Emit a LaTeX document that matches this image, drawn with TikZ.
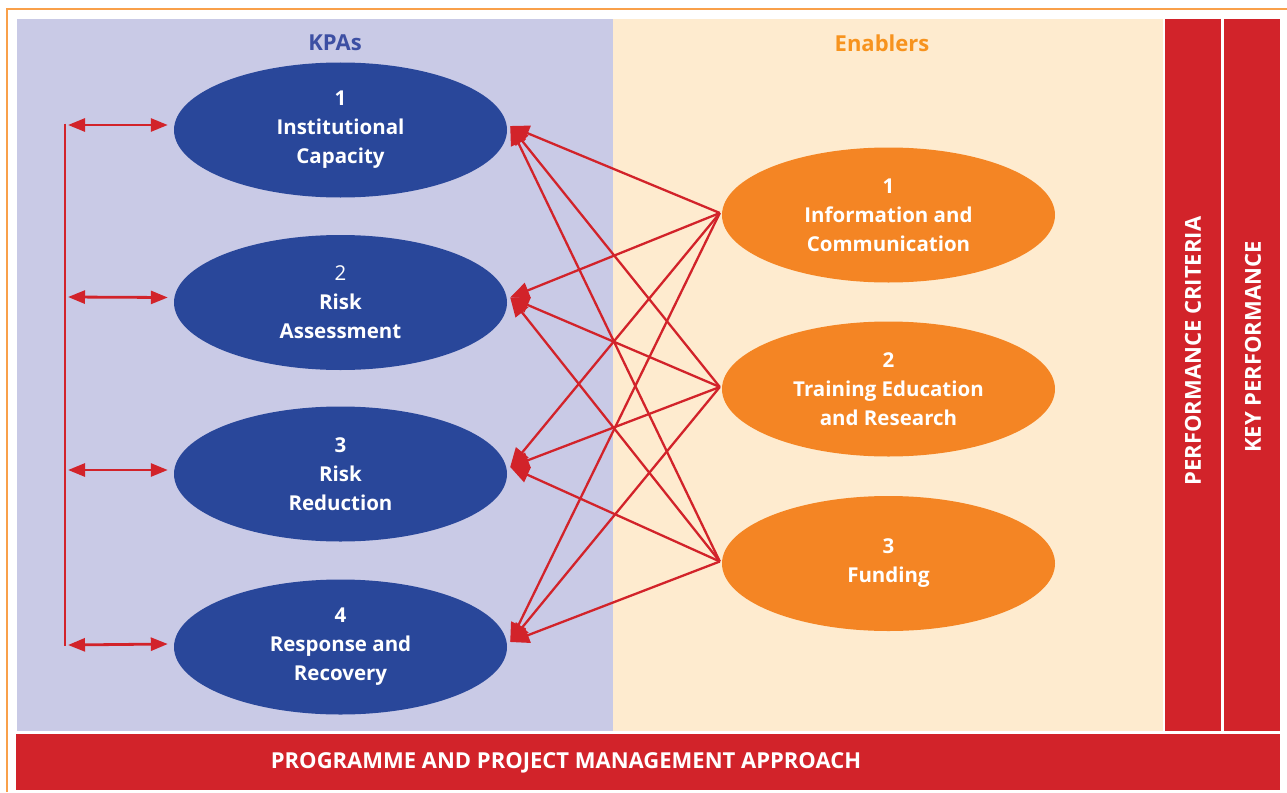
\documentclass[tikz,border=0pt]{standalone}
\usepackage{fontspec}
\setmainfont{Open Sans}
\usetikzlibrary{shapes.geometric,arrows.meta,calc}

\definecolor{lav}{HTML}{C9CAE6}
\definecolor{cream}{HTML}{FEEBCF}
\definecolor{barred}{HTML}{D2232A}
\definecolor{kpablue}{HTML}{29479A}
\definecolor{enorange}{HTML}{F48524}
\definecolor{frameorange}{HTML}{F9A04A}
\definecolor{titleblue}{HTML}{3D4FA3}
\definecolor{titleorange}{HTML}{F7931E}

\tikzset{
  kpa/.style={ellipse, fill=kpablue, minimum width=333pt, minimum height=135pt,
    inner sep=0pt, text=white, align=center,
    font=\fontsize{20.5}{29}\selectfont\bfseries},
  enabler/.style={kpa, fill=enorange},
  link/.style={draw=barred, line width=2.3pt, -{Triangle[length=19pt,width=16pt]}},
  loop/.style={draw=barred, line width=2.8pt,
    {Triangle[length=17pt,width=13pt]}-{Triangle[length=17pt,width=13pt]}},
  spine/.style={draw=barred, line width=2.8pt},
  heading/.style={font=\fontsize{22}{26}\selectfont\bfseries},
  bartext/.style={text=white, font=\fontsize{22}{26}\selectfont\bfseries},
}

\begin{document}
\begin{tikzpicture}[x=1pt,y=-1pt]
\useasboundingbox (0,0) rectangle (1287,792);
\fill[white] (0,0) rectangle (1287,792);

% outer frame
\draw[frameorange, line width=1.6pt] (7,792) -- (7,9) -- (1287,9);

% panels and bars
\fill[lav] (17,19) rectangle (613,731);
\fill[cream] (613,19) rectangle (1163,731);
\fill[barred] (1165,19) rectangle (1221,731);
\fill[barred] (1224,19) rectangle (1280,731);
\fill[barred] (16,734) rectangle (1280,790);

% headings and bar labels
\node[heading, text=titleblue] (hk) at (335,43) {KPAs};
\node[heading, text=titleorange] (he) at (882,43) {Enablers};
\node[bartext, rotate=90] (pc) at (1193,351) {PERFORMANCE CRITERIA};
\node[bartext, rotate=90] (kp) at (1253,347) {KEY PERFORMANCE};
\node[bartext] (pm) at (566,763) {PROGRAMME AND PROJECT MANAGEMENT APPROACH};

% key performance areas
\node[kpa] (k1) at (340.5,130) {1\\Institutional\\Capacity};
\node[kpa] (k2) at (340.5,302.5) {\mdseries 2\\Risk\\Assessment};
\node[kpa] (k3) at (340.5,474) {3\\Risk\\Reduction};
\node[kpa] (k4) at (340.5,647) {4\\Response and\\Recovery};

% enablers
\node[enabler] (e1) at (888.5,215) {1\\Information and\\Communication};
\node[enabler] (e2) at (888.5,389) {2\\Training Education\\and Research};
\node[enabler] (e3) at (888.5,563.5) {3\\Funding};

% every enabler feeds every KPA
\foreach \e in {1,2,3}{
  \foreach \k/\dy in {1/-4,2/-5,3/-7,4/-5}{
    \draw[link] ($(e\e.west)+(-2,-2)$) -- ($(k\k.east)+(3,\dy)$);
  }
}

% links between the KPAs
\coordinate (s1) at (65,125);
\coordinate (s2) at (65,297);
\coordinate (s3) at (65,470);
\coordinate (s4) at (65,645);
\draw[spine] ($(s1)+(0,-1.4)$) -- ($(s4)+(0,1.4)$);
\foreach \i/\dy in {1/-5,2/-5,3/-4,4/-3}{
  \draw[loop] ($(s\i)+(3,0)$) -- ($(k\i.west)+(-6,\dy)$);
}
\end{tikzpicture}
\end{document}
